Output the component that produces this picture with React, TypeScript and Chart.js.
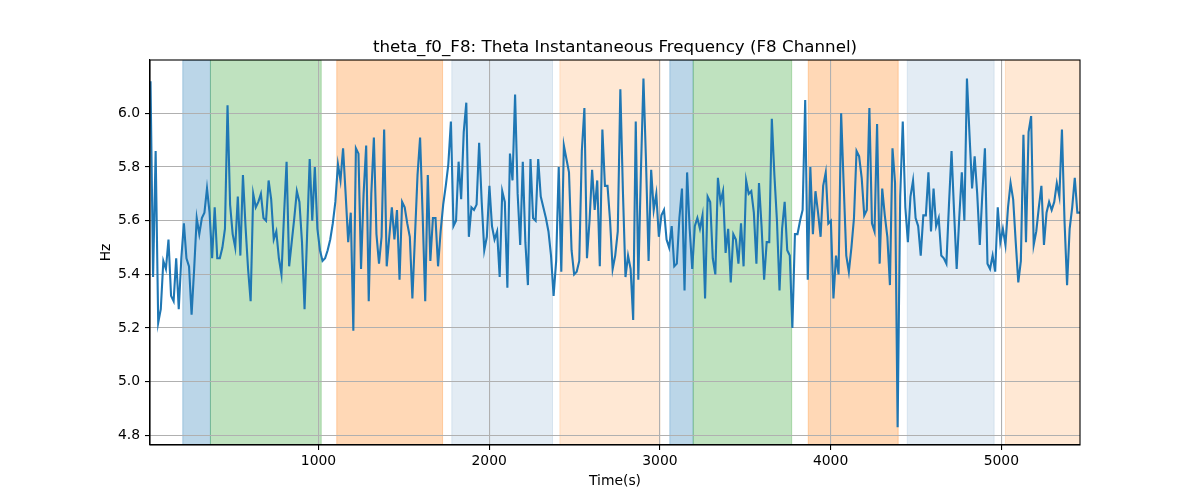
import React, { useEffect, useRef } from "react";
import { Chart, registerables } from "chart.js";

Chart.register(...registerables);

// Theta instantaneous frequency (Hz), sampled every ~15 s
const freqPart1 = [6.12, 5.39, 5.86, 5.22, 5.27, 5.45, 5.42, 5.53, 5.32, 5.30, 5.46, 5.27, 5.46, 5.59, 5.46, 5.43, 5.25, 5.42, 5.61, 5.55, 5.61, 5.63, 5.72, 5.63, 5.46, 5.65, 5.46, 5.46, 5.50, 5.57, 6.03, 5.66, 5.55, 5.50, 5.69, 5.47, 5.77, 5.58, 5.42, 5.30, 5.70, 5.65, 5.67, 5.70, 5.61, 5.60, 5.75, 5.68, 5.53, 5.56, 5.46, 5.40, 5.62, 5.82, 5.43, 5.52, 5.61, 5.71, 5.67, 5.52, 5.27];
const freqPart2 = [5.55, 5.83, 5.60, 5.80, 5.57, 5.49, 5.45, 5.46, 5.49, 5.53, 5.59, 5.67, 5.81, 5.75, 5.87, 5.70, 5.52, 5.63, 5.19, 5.87, 5.85, 5.42, 5.70, 5.88, 5.30, 5.70, 5.91, 5.55, 5.44, 5.54, 5.94, 5.43, 5.54, 5.65, 5.53, 5.64, 5.38, 5.67, 5.65, 5.59, 5.54, 5.31, 5.54, 5.77, 5.91, 5.62, 5.30, 5.77, 5.45, 5.61, 5.61, 5.43, 5.56, 5.66, 5.73, 5.81, 5.97, 5.58, 5.60, 5.82];
const freqPart3 = [5.68, 5.93, 6.04, 5.54, 5.65, 5.64, 5.66, 5.89, 5.67, 5.49, 5.54, 5.73, 5.58, 5.53, 5.56, 5.39, 5.71, 5.67, 5.35, 5.85, 5.75, 6.07, 5.70, 5.51, 5.82, 5.52, 5.36, 5.83, 5.61, 5.60, 5.83, 5.69, 5.65, 5.61, 5.56, 5.47, 5.32, 5.45, 5.80, 5.41, 5.88, 5.83, 5.78, 5.49, 5.40, 5.41, 5.45, 5.86, 6.02, 5.46, 5.60, 5.79, 5.64, 5.75, 5.43, 5.94, 5.73, 5.73, 5.60, 5.42];
const freqPart4 = [5.47, 5.56, 6.09, 5.71, 5.39, 5.47, 5.42, 5.23, 5.97, 5.38, 5.78, 6.13, 5.82, 5.45, 5.79, 5.64, 5.70, 5.54, 5.62, 5.64, 5.53, 5.50, 5.58, 5.43, 5.44, 5.61, 5.72, 5.34, 5.78, 5.57, 5.42, 5.58, 5.61, 5.57, 5.62, 5.31, 5.69, 5.67, 5.46, 5.40, 5.76, 5.67, 5.71, 5.48, 5.57, 5.37, 5.55, 5.53, 5.44, 5.59, 5.43, 5.75, 5.70, 5.71, 5.63, 5.44, 5.74, 5.58, 5.38, 5.52, 5.52];
const freqPart5 = [5.98, 5.77, 5.60, 5.34, 5.57, 5.67, 5.49, 5.47, 5.20, 5.55, 5.55, 5.60, 5.64, 6.05, 5.38, 5.80, 5.55, 5.71, 5.63, 5.54, 5.73, 5.78, 5.59, 5.60, 5.31, 5.47, 5.40, 6.00, 5.73, 5.47, 5.41, 5.50, 5.61, 5.86, 5.84, 5.76, 5.62, 5.64, 6.02, 5.59, 5.56, 5.96, 5.44, 5.72, 5.62, 5.54, 5.36, 5.87, 5.74, 4.83, 5.69, 5.97, 5.65, 5.52, 5.69, 5.75, 5.61, 5.58, 5.47, 5.62];
const freqPart6 = [5.62, 5.78, 5.56, 5.72, 5.58, 5.61, 5.47, 5.46, 5.44, 5.66, 5.86, 5.63, 5.42, 5.61, 5.78, 5.60, 6.13, 5.92, 5.72, 5.84, 5.70, 5.51, 5.70, 5.87, 5.44, 5.42, 5.47, 5.41, 5.65, 5.52, 5.57, 5.51, 5.65, 5.74, 5.68, 5.52, 5.37, 5.45, 5.92, 5.52, 5.93, 5.99, 5.51, 5.56, 5.65, 5.73, 5.51, 5.63, 5.67, 5.64, 5.67, 5.74, 5.69, 5.94, 5.60, 5.36, 5.57, 5.65, 5.76, 5.63, 5.63];

const START_TIME = 16;
const SAMPLE_STEP = 15.04;

// Shaded intervals (seconds)
const spanStarts = [205, 367, 1107, 1781, 2414, 3058, 3195, 3869, 4449, 5024];
const spanEnds = [367, 1016, 1727, 2371, 3000, 3195, 3772, 4396, 4958, 5470];
const spanColors = [
  "rgba(31,119,180,0.3)",
  "rgba(44,160,44,0.3)",
  "rgba(255,127,14,0.3)",
  "rgba(70,130,180,0.15)",
  "rgba(255,127,14,0.18)",
  "rgba(31,119,180,0.3)",
  "rgba(44,160,44,0.3)",
  "rgba(255,127,14,0.3)",
  "rgba(70,130,180,0.15)",
  "rgba(255,127,14,0.18)",
];

const xTicks = [1000, 2000, 3000, 4000, 5000];
const yTicks = [4.8, 5.0, 5.2, 5.4, 5.6, 5.8, 6.0];

const TITLE = "theta_f0_F8: Theta Instantaneous Frequency (F8 Channel)";
const X_LABEL = "Time(s)";
const Y_LABEL = "Hz";

const FONT = "'DejaVu Sans', sans-serif";

export default function App() {
  const canvasRef = useRef<HTMLCanvasElement | null>(null);

  useEffect(() => {
    document.body.style.margin = "0";
    const canvas = canvasRef.current;
    if (!canvas) return;

    const values = [...freqPart1, ...freqPart2, ...freqPart3, ...freqPart4, ...freqPart5, ...freqPart6];
    const points = values.map((v, i) => ({ x: START_TIME + i * SAMPLE_STEP, y: v }));

    const decorPlugin = {
      id: "decor",
      beforeDraw(chart: any) {
        const { ctx, chartArea, scales } = chart;
        const xs = scales.x;
        ctx.save();
        ctx.beginPath();
        ctx.rect(chartArea.left, chartArea.top, chartArea.right - chartArea.left, chartArea.bottom - chartArea.top);
        ctx.clip();
        for (let i = 0; i < spanStarts.length; i++) {
          const x0 = xs.getPixelForValue(spanStarts[i]);
          const x1 = xs.getPixelForValue(spanEnds[i]);
          ctx.fillStyle = spanColors[i];
          ctx.fillRect(x0, chartArea.top, x1 - x0, chartArea.bottom - chartArea.top);
          ctx.strokeStyle = spanColors[i];
          ctx.lineWidth = 1;
          ctx.strokeRect(x0, chartArea.top, x1 - x0, chartArea.bottom - chartArea.top);
        }
        ctx.restore();
      },
      afterDraw(chart: any) {
        const { ctx, chartArea } = chart;
        ctx.save();
        ctx.strokeStyle = "#000";
        ctx.lineWidth = 1.1;
        ctx.strokeRect(chartArea.left, chartArea.top, chartArea.right - chartArea.left, chartArea.bottom - chartArea.top);
        const cx = (chartArea.left + chartArea.right) / 2;
        ctx.fillStyle = "#000";
        ctx.font = `16.7px ${FONT}`;
        ctx.textAlign = "center";
        ctx.textBaseline = "alphabetic";
        ctx.fillText(TITLE, cx, chartArea.top - 8.5);
        ctx.font = `13.9px ${FONT}`;
        ctx.textBaseline = "top";
        ctx.fillText(X_LABEL, cx, 474);
        ctx.translate(106, (chartArea.top + chartArea.bottom) / 2);
        ctx.rotate(-Math.PI / 2);
        ctx.textBaseline = "middle";
        ctx.fillText(Y_LABEL, 0, 0);
        ctx.restore();
      },
    };

    const chart = new Chart(canvas, {
      type: "line",
      data: {
        datasets: [
          {
            data: points,
            borderColor: "#1f77b4",
            borderWidth: 2.1,
            pointRadius: 0,
            tension: 0,
            fill: false,
          },
        ],
      },
      options: {
        animation: false,
        responsive: false,
        maintainAspectRatio: false,
        parsing: false,
        layout: { padding: { left: 0, top: 60, right: 120, bottom: 0 } },
        plugins: {
          legend: { display: false },
          title: { display: false },
          tooltip: { enabled: false },
        },
        scales: {
          x: {
            type: "linear",
            min: 13,
            max: 5461,
            afterFit: (s: any) => {
              s.height = 55;
            },
            afterBuildTicks: (s: any) => {
              s.ticks = xTicks.map((v) => ({ value: v }));
            },
            grid: {
              color: "#b0b0b0",
              lineWidth: 1.1,
              tickColor: "#000",
              tickLength: 5,
              drawTicks: true,
            },
            border: { display: true, color: "#000", width: 1.1 },
            ticks: {
              color: "#000",
              font: { family: FONT, size: 13.9 },
              padding: 3,
              maxRotation: 0,
              autoSkip: false,
              callback: (v: any) => String(v),
            },
          },
          y: {
            type: "linear",
            min: 4.764,
            max: 6.199,
            afterFit: (s: any) => {
              s.width = 150;
            },
            afterBuildTicks: (s: any) => {
              s.ticks = yTicks.map((v) => ({ value: v }));
            },
            grid: {
              color: "#b0b0b0",
              lineWidth: 1.1,
              tickColor: "#000",
              tickLength: 5,
              drawTicks: true,
            },
            border: { display: true, color: "#000", width: 1.1 },
            ticks: {
              color: "#000",
              font: { family: FONT, size: 13.9 },
              padding: 5,
              autoSkip: false,
              callback: (v: any) => Number(v).toFixed(1),
            },
          },
        },
      },
      plugins: [decorPlugin],
    });

    return () => {
      chart.destroy();
    };
  }, []);

  return (
    <div style={{ width: 1200, height: 500, background: "#fff" }}>
      <canvas ref={canvasRef} width={1200} height={500} style={{ width: 1200, height: 500, display: "block" }} />
    </div>
  );
}
